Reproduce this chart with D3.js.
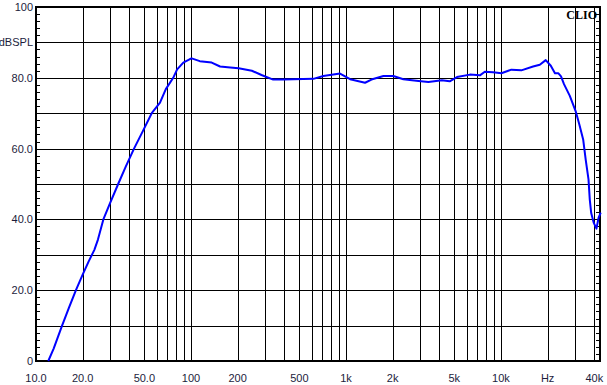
<!DOCTYPE html>
<html>
<head>
<meta charset="utf-8">
<script src="https://cdn.jsdelivr.net/npm/d3@7"></script>
<style>
body { margin: 0; background: #fff; }
text { font-family: "Liberation Sans", Arial, sans-serif; font-size: 11px; fill: #1c1c3c; }
</style>
</head>
<body>
<div id="chart"></div>
<script>
var width = 607,
    height = 385;

// frequency response
var freqs = [12.0, 13.0, 14.65, 16.3, 18.1, 20, 21.8, 23.8, 25.1, 27.2, 30, 33.9, 38, 42.9, 49, 55.8,
    63.1, 68.8, 76.8, 81.4, 89.2, 98.5, 101, 114, 136, 154, 179, 203, 247, 285, 339, 394, 616, 714,
    915, 1063, 1327, 1460, 1744, 2020, 2344, 2937, 3403, 4155, 4668, 5200, 6310, 7310, 7870, 8890,
    10060, 11670, 13530, 16110, 17800, 19440, 20960, 22300, 23400, 24400, 25500, 27800, 30300,
    32000, 33900, 35200, 36700, 37400, 38200, 39700, 41300, 42600, 44000];
var spl = [0, 3.5, 9.7, 15, 20, 24.4, 28, 31.4, 34.3, 40, 44.5, 50, 55, 60, 65, 70,
    73, 76.8, 80, 82.4, 84.3, 85.3, 85.5, 84.7, 84.3, 83.2, 82.9, 82.7, 82, 80.8, 79.5, 79.5, 79.7, 80.5,
    81.2, 79.6, 78.6, 79.5, 80.5, 80.5, 79.6, 79.1, 78.8, 79.3, 79, 80.2, 80.9, 80.7, 81.7, 81.6,
    81.3, 82.3, 82.1, 83.2, 83.7, 85, 83.4, 81.3, 81.3, 80.4, 78.2, 74.9, 70.6,
    66.9, 62.6, 56.9, 51.3, 45.6, 41.8, 39, 37.4, 40.4, 41.9];

var xTickValues = [10, 20, 50, 100, 200, 500, 1000, 2000, 5000, 10000, 20000, 40000];
var xTickLabels = ["10.0", "20.0", "50.0", "100", "200", "500", "1k", "2k", "5k", "10k", "Hz", "40k"];
var yTickValues = [0, 20, 40, 60, 80, 90, 100];
var yTickLabels = ["0", "20.0", "40.0", "60.0", "80.0", "dBSPL", "100"];

var plotLeft = 36, plotRight = 600, plotTop = 7, plotBottom = 361;

var svg = d3.select("#chart")
    .append("svg")
    .attr("width", width)
    .attr("height", height);

var x = d3.scaleLog().domain([10, 40000]).range([plotLeft, 594.3]);
var y = d3.scaleLinear().domain([0, 100]).range([plotBottom, plotTop]);

// vertical grid
svg.selectAll(".vgrid")
    .data(x.ticks().filter(function(d) { return d > 10; }))
    .enter().append("line")
    .attr("x1", function(d) { return Math.round(x(d)) + 0.5; })
    .attr("x2", function(d) { return Math.round(x(d)) + 0.5; })
    .attr("y1", plotTop)
    .attr("y2", plotBottom)
    .attr("stroke", "#000")
    .attr("stroke-width", 1);

// horizontal grid
svg.selectAll(".hgrid")
    .data(d3.range(10, 100, 10))
    .enter().append("line")
    .attr("x1", plotLeft)
    .attr("x2", plotRight)
    .attr("y1", function(d) { return Math.round(y(d)) + 0.5; })
    .attr("y2", function(d) { return Math.round(y(d)) + 0.5; })
    .attr("stroke", "#000")
    .attr("stroke-width", 1);

// minor ticks on both sides
var minor = d3.range(2, 100, 2);
svg.selectAll(".ltick")
    .data(minor)
    .enter().append("line")
    .attr("x1", plotLeft).attr("x2", plotLeft + 4)
    .attr("y1", function(d) { return Math.round(y(d)) + 0.5; })
    .attr("y2", function(d) { return Math.round(y(d)) + 0.5; })
    .attr("stroke", "#000");
svg.selectAll(".rtick")
    .data(minor)
    .enter().append("line")
    .attr("x1", plotRight - 4).attr("x2", plotRight)
    .attr("y1", function(d) { return Math.round(y(d)) + 0.5; })
    .attr("y2", function(d) { return Math.round(y(d)) + 0.5; })
    .attr("stroke", "#000");

// frame
svg.append("rect")
    .attr("x", plotLeft)
    .attr("y", plotTop)
    .attr("width", plotRight - plotLeft)
    .attr("height", plotBottom - plotTop)
    .attr("fill", "none")
    .attr("stroke", "#000")
    .attr("stroke-width", 2);

// response curve
var pts = freqs.map(function(f, i) { return [f, spl[i]]; });
var line = d3.line()
    .x(function(d) { return x(d[0]); })
    .y(function(d) { return y(d[1]); });

svg.append("path")
    .datum(pts)
    .attr("d", line)
    .attr("fill", "none")
    .attr("stroke", "#0000ff")
    .attr("stroke-width", 2)
    .attr("stroke-linejoin", "round");

// y labels
svg.selectAll(".ylab")
    .data(yTickValues)
    .enter().append("text")
    .attr("x", 33)
    .attr("y", function(d) { return y(d) + 4; })
    .attr("text-anchor", "end")
    .text(function(d, i) { return yTickLabels[i]; });

// x labels
svg.selectAll(".xlab")
    .data(xTickValues)
    .enter().append("text")
    .attr("x", function(d) { return x(d); })
    .attr("y", 382)
    .attr("text-anchor", "middle")
    .text(function(d, i) { return xTickLabels[i]; });

svg.append("text")
    .attr("x", 597)
    .attr("y", 19)
    .attr("text-anchor", "end")
    .style("font-family", "'Liberation Serif', 'Times New Roman', serif")
    .style("font-weight", "bold")
    .style("font-size", "12px")
    .style("fill", "#000")
    .text("CLIO");
</script>
</body>
</html>
